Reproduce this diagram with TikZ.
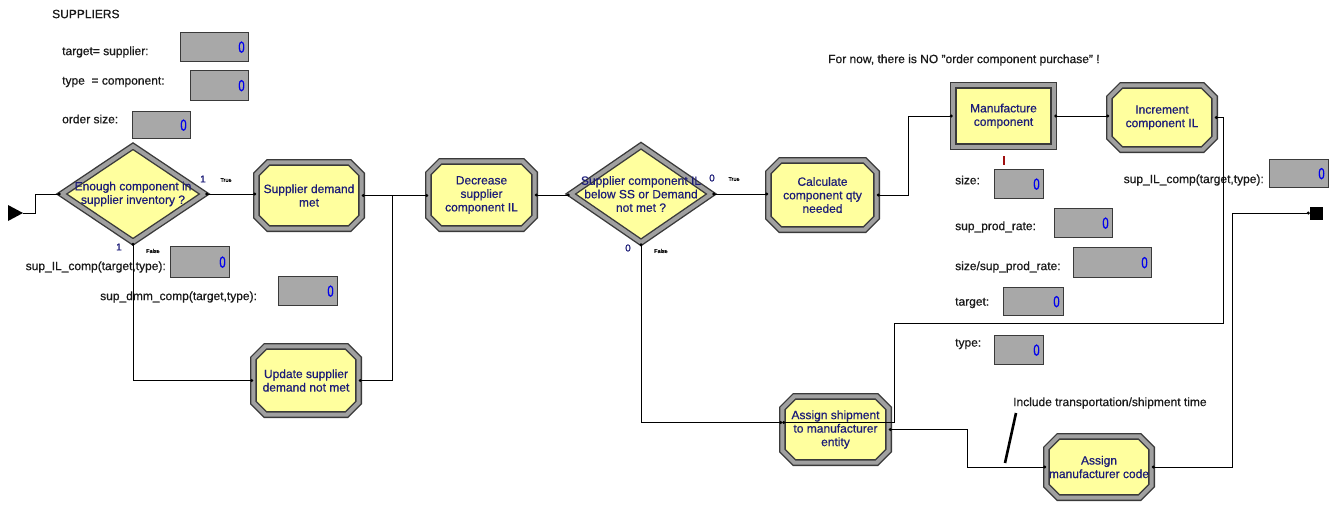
\documentclass[tikz,border=0pt]{standalone}
\usepackage{fontspec}
\setmainfont[FakeBold=0.6]{Liberation Sans}
\usetikzlibrary{shapes.geometric,arrows.meta,calc}
\definecolor{ylw}{HTML}{FFFF9E}
\definecolor{bdr}{HTML}{3A3A3A}
\definecolor{bev}{HTML}{A0A0A0}
\definecolor{navy}{HTML}{1C1C78}
\definecolor{vfill}{HTML}{A8A8A8}
\definecolor{valblue}{HTML}{0000EE}
\definecolor{markred}{HTML}{A01010}
\definecolor{lbl}{HTML}{1A1A1A}
\newcommand\varbox[5]{%
  \pgfmathsetmacro\vbw{#4-#2-8}\pgfmathsetmacro\vbh{#5-#3}%
  \node[vbox, text width=\vbw pt, minimum height=\vbh pt, anchor=north west] (#1) at (#2,#3) {\scalebox{0.7}[1]{0}};}
% octagonal module: name, cx, cy, outer W, outer H, chamfer, text
\newcommand\octmodule[7]{%
  \pgfmathsetmacro\ohw{(#4-6.8)/2}\pgfmathsetmacro\ohh{(#5-6.8)/2}%
  \draw[bevel] ({#2-\ohw+#6},{#3-\ohh}) -- ({#2+\ohw-#6},{#3-\ohh}) -- ({#2+\ohw},{#3-\ohh+#6})
     -- ({#2+\ohw},{#3+\ohh-#6}) -- ({#2+\ohw-#6},{#3+\ohh}) -- ({#2-\ohw+#6},{#3+\ohh})
     -- ({#2-\ohw},{#3+\ohh-#6}) -- ({#2-\ohw},{#3-\ohh+#6}) -- cycle;
  \pgfmathsetmacro\ofw{2*\ohw}\pgfmathsetmacro\ofh{2*\ohh}%
  \node[inner sep=0pt, minimum width=\ofw pt, minimum height=\ofh pt,
    label={[ptext]center:{#7}}] (#1) at (#2,#3) {};}
\begin{document}
\begin{tikzpicture}[x=1pt,y=-1pt,
  every node/.style={font=\fontsize{12}{13.5}\selectfont},
  bevel/.style={draw=bdr, line width=1.4pt, double=bev, double distance=4pt, fill=ylw},
  procsq/.style={bevel, rectangle, inner sep=0pt},
  dec/.style={bevel, diamond, inner sep=0pt},
  ptext/.style={text=navy, align=center, inner sep=0pt},
  vbox/.style={draw=bdr, line width=1.3pt, fill=vfill, text=valblue, align=right, inner xsep=4pt, inner ysep=0pt, font=\fontsize{16}{16}\selectfont},
  lab/.style={text=lbl, inner sep=0pt},
  tiny/.style={font=\fontsize{5.5}{6}\selectfont, text=black, inner sep=0pt},
  num/.style={font=\fontsize{10}{11}\selectfont, text=navy, inner sep=0pt},
  conn/.style={line width=0.9pt, {Circle[length=3pt]}-{Circle[length=3pt]}},
  connE/.style={line width=0.9pt, {Circle[length=3pt]}-},
  connS/.style={line width=0.9pt, -{Circle[length=3pt]}},
  annot/.style={line width=2.6pt}
]
\useasboundingbox (0,0) rectangle (1339,504);
\fill[white] (0,0) rectangle (1339,504);

% texts
\node[lab, anchor=west] (title) at (52,14) {SUPPLIERS};
\node[lab, anchor=west] (lt1) at (62,52) {target= supplier:};
\node[lab, anchor=west] (lt2) at (62,82) {type\ \ = component:};
\node[lab, anchor=west] (lt3) at (62,119) {order size:};
\node[lab, anchor=east] (lt4) at (166,267) {sup\_IL\_comp(target,type):};
\node[lab, anchor=west] (lt5) at (100,297) {sup\_dmm\_comp(target,type):};
\node[lab, anchor=west] (rt1) at (955,180) {size:};
\node[lab, anchor=west] (rt2) at (955,227) {sup\_prod\_rate:};
\node[lab, anchor=west] (rt3) at (955,267) {size/sup\_prod\_rate:};
\node[lab, anchor=west] (rt4) at (955,303) {target:};
\node[lab, anchor=west] (rt5) at (955,344) {type:};
\node[lab, anchor=east] (rt6) at (1264,180) {sup\_IL\_comp(target,type):};
\node[lab, anchor=west] (note0) at (828,60) {For now, there is NO "order component purchase" !};
\node[lab, anchor=west] (note) at (1013,403) {Include transportation/shipment time};

% variable boxes
\varbox{vb1}{180}{32}{248}{61}
\varbox{vb2}{190}{70}{248}{100}
\varbox{vb3}{132}{111}{190}{138}
\varbox{vb4}{170}{246}{229}{277}
\varbox{vb5}{278}{276}{337}{305}
\varbox{vb6}{994}{169}{1043}{198}
\varbox{vb7}{1054}{208}{1112}{237}
\varbox{vb8}{1073}{247}{1151}{277}
\varbox{vb9}{1003}{287}{1063}{315}
\varbox{vb10}{994}{335}{1043}{364}
\varbox{vb11}{1269}{159}{1328}{187}

% modules
\node[dec, minimum width=143.2pt, minimum height=96.2pt,
  label={[ptext]center:{Enough component in\\supplier inventory ?}}] (d1) at (133,194) {};
\octmodule{sdm}{309}{195.5}{112}{73}{12}{Supplier demand\\met}
\octmodule{upd}{306}{380.5}{112}{75}{12}{Update supplier\\demand not met}
\octmodule{dcr}{481.5}{195}{113}{74}{12}{Decrease\\supplier\\component IL}
\node[dec, minimum width=141.2pt, minimum height=97.2pt,
  label={[ptext]center:{Supplier component IL\\below SS or Demand\\not met ?}}] (d2) at (641,194) {};
\octmodule{calc}{822.5}{195}{115}{76}{12}{Calculate\\component qty\\needed}
\node[procsq, minimum width=100.2pt, minimum height=61.2pt,
  label={[ptext]center:{Manufacture\\component}}] (man) at (1003.5,116) {};
\octmodule{inc}{1162}{117.5}{112}{71}{12}{Increment\\component IL}
\octmodule{asg}{835.5}{429.5}{113}{73}{12}{Assign shipment\\to manufacturer\\entity}
\octmodule{code}{1099}{467}{112}{68}{12}{Assign\\manufacturer code}
\node[fill=black, minimum size=13pt, inner sep=0pt] (fin) at (1316.5,213) {};

% branch labels
\node[num] (n1) at (203,179) {1};
\node[tiny] (t1) at (226,180) {True};
\node[num] (n2) at (119,247) {1};
\node[tiny] (f1) at (153,251) {False};
\node[num] (n3) at (712,178) {0};
\node[tiny] (t2) at (734,179) {True};
\node[num] (n4) at (628,248) {0};
\node[tiny] (f2) at (661,251) {False};

% start marker
\coordinate (start) at (23,213);
\fill (8,205) -- (start) -- (8,221) -- cycle;

% connectors
\draw[connS] (start) -- (35,213) |- (d1.west);
\draw[conn] (d1.east) -- (d1.east -| sdm.west);
\draw[conn] (sdm.east) -- (sdm.east -| dcr.west);
\coordinate (j1) at (392,195.5);
\draw[connE] (upd.east) -| (j1);
\draw[conn] (d1.south) |- (upd.west);
\draw[conn] (dcr.east) -- (dcr.east -| d2.west);
\draw[conn] (d2.east) -- (d2.east -| calc.west);
\draw[conn] (calc.east) -- ++(32,0) |- (man.west);
\draw[conn] (man.east) -- (man.east -| inc.west);
\coordinate (aw) at ($(asg.west)+(0,-7)$);
\draw[conn] (d2.south) |- (aw);
\draw[conn] (inc.east) -- ++(9,0) |- (894,323) |- (aw);
\draw[conn] (asg.east) -- ++(79,0) |- (code.west);
\draw[conn] (code.east) -- ++(81,0) |- (fin.west);

% annotation
\coordinate (ann) at (1005,463);
\draw[annot] ($(note.west)+(3,10)$) -- (ann);
\draw[markred, line width=2pt] (1004,156) -- (1004,165);
\end{tikzpicture}
\end{document}
